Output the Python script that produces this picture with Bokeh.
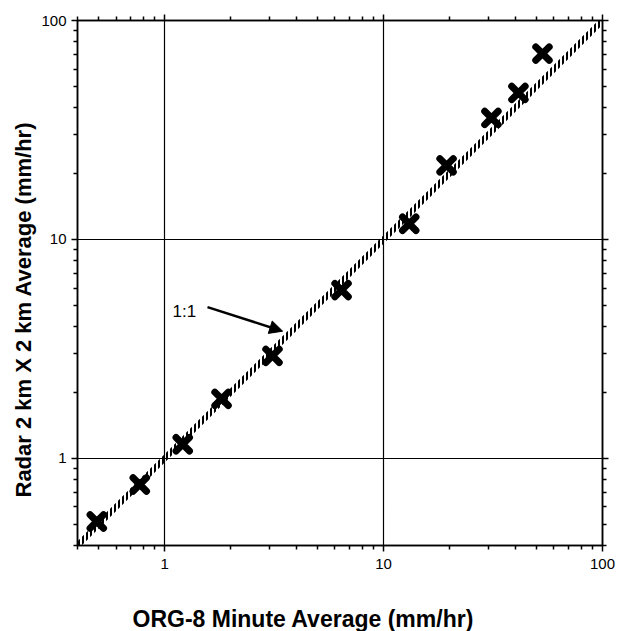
from bokeh.plotting import figure
from bokeh.models import (LogAxis, FixedTicker, Label, Arrow, NormalHead,
                          ColumnDataSource, Title, PrintfTickFormatter)
from bokeh.embed import file_html
from bokeh.resources import INLINE

# ---- data ----
org8 = [0.49, 0.77, 1.21, 1.82, 3.11, 6.43, 13.1, 19.4, 31.1, 41.3, 53.2]
radar = [0.515, 0.76, 1.16, 1.87, 2.94, 5.87, 11.8, 21.8, 35.9, 46.7, 70.6]
one_to_one = [0.4, 100]
major_ticks = [1, 10, 100]
minor_ticks = [0.4, 0.5, 0.6, 0.7, 0.8, 0.9, 2, 3, 4, 5, 6, 7, 8, 9,
               20, 30, 40, 50, 60, 70, 80, 90]
tick_labels = {1: "1", 10: "10", 100: "100"}
x_title = "ORG-8 Minute Average (mm/hr)"
y_title = "Radar 2 km X 2 km Average (mm/hr)"
ratio_text = "1:1"

FONT = "Liberation Sans"

p = figure(width=621, height=631, x_axis_type="log", y_axis_type="log",
           x_range=(0.4, 100), y_range=(0.4, 100),
           output_backend="svg", toolbar_location=None,
           min_border_left=77, min_border_right=19,
           min_border_top=20, min_border_bottom=86)
p.background_fill_color = "white"
p.border_fill_color = "white"
p.outline_line_color = "black"
p.outline_line_width = 1.5

# axes
def style_axis(ax, show_labels=True):
    ax.ticker = FixedTicker(ticks=major_ticks, minor_ticks=minor_ticks)
    ax.formatter = PrintfTickFormatter(format="%d")
    ax.major_tick_in = 0
    ax.major_tick_out = 6
    ax.minor_tick_in = 0
    ax.minor_tick_out = 4
    ax.major_tick_line_color = "black"
    ax.minor_tick_line_color = "black"
    ax.major_tick_line_width = 1.5
    ax.minor_tick_line_width = 1.5
    ax.axis_line_color = "black"
    ax.axis_line_width = 1.5
    ax.major_label_text_font = FONT
    ax.major_label_text_font_size = "15px"
    ax.major_label_text_color = "black"
    if show_labels:
        ax.major_label_overrides = {float(k): v for k, v in tick_labels.items()}
    else:
        ax.major_label_text_alpha = 0
        ax.major_label_standoff = 0

style_axis(p.xaxis[0])
style_axis(p.yaxis[0])
p.xaxis[0].major_label_standoff = 7
p.yaxis[0].major_label_standoff = 5

top = LogAxis()
right = LogAxis()
style_axis(top, False)
style_axis(right, False)
p.add_layout(top, "above")
p.add_layout(right, "right")

# grid
for g in (p.xgrid[0], p.ygrid[0]):
    g.ticker = FixedTicker(ticks=major_ticks)
    g.grid_line_color = "black"
    g.grid_line_width = 1.2

# 1:1 hatched band
f = 1.045
src_line = ColumnDataSource(dict(x=one_to_one,
                                 y1=[v / f for v in one_to_one],
                                 y2=[v * f for v in one_to_one]))
p.varea(x="x", y1="y1", y2="y2", source=src_line, fill_alpha=0,
        hatch_pattern="vertical_line", hatch_color="black",
        hatch_scale=4, hatch_weight=2)

# points
src = ColumnDataSource(dict(x=org8, y=radar))
p.scatter("x", "y", source=src, marker="x", size=19, line_width=7,
          line_color="black", line_cap="round")

# 1:1 annotation
p.add_layout(Label(x=1.23, y=4.71, text=ratio_text, text_font=FONT,
                   text_font_size="17px", text_align="center",
                   text_baseline="middle", text_color="black"))
p.add_layout(Arrow(x_start=1.57, y_start=4.91, x_end=3.46, y_end=3.81,
                   line_width=2.5, line_color="black",
                   end=NormalHead(size=13, fill_color="black",
                                  line_color="black")))

# axis titles
def make_title(text, offset, standoff, size="23px"):
    t = Title(text=text, align="left", offset=offset, text_font=FONT,
              text_font_style="bold", text_font_size=size,
              text_color="black")
    try:
        t.standoff = standoff
    except Exception:
        pass
    return t

# spacer pushes the x title towards the bottom of the page
p.add_layout(make_title(" ", 0, 19, size="10px"), "below")
p.add_layout(make_title(x_title, 55, 0), "below")
p.add_layout(make_title(y_title, 48, 6, size="22px"), "left")

open("out.html", "w").write(file_html(p, INLINE))
